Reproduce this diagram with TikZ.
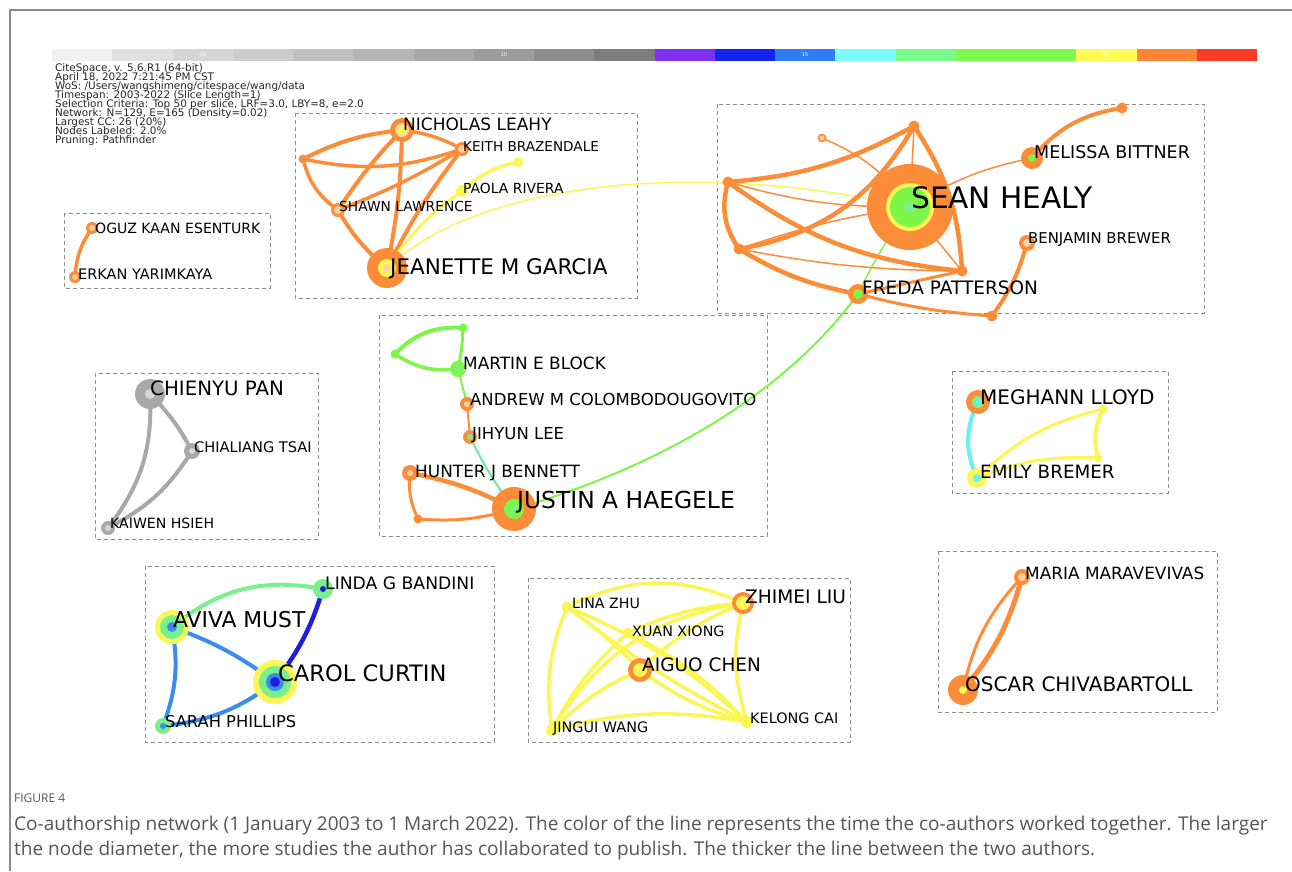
\documentclass[tikz,border=0pt]{standalone}
\usepackage{fontspec}
\setmainfont{DejaVu Sans}
\newfontfamily\capfont{Open Sans}
\definecolor{csOrange}{RGB}{252,140,55}
\definecolor{csPeach}{RGB}{252,208,170}
\definecolor{csYellow}{RGB}{250,246,85}
\definecolor{csGreen}{RGB}{124,246,72}
\definecolor{csMint}{RGB}{122,240,140}
\definecolor{csCyan}{RGB}{100,242,242}
\definecolor{csTeal}{RGB}{110,230,170}
\definecolor{csBlue}{RGB}{60,140,240}
\definecolor{csDeepBlue}{RGB}{30,30,225}
\definecolor{csGray}{RGB}{168,168,168}
\definecolor{csLightGray}{RGB}{215,215,215}
\definecolor{boxGray}{RGB}{140,140,140}
\definecolor{capGray}{RGB}{85,85,85}
\definecolor{barPurple}{RGB}{128,48,240}
\definecolor{barBlue}{RGB}{20,35,240}
\definecolor{barSky}{RGB}{46,124,246}
\definecolor{barCyan}{RGB}{123,253,253}
\definecolor{barMint}{RGB}{122,250,138}
\definecolor{barGreen}{RGB}{125,250,75}
\definecolor{barYellow}{RGB}{252,252,85}
\definecolor{barOrange}{RGB}{253,133,52}
\definecolor{barRed}{RGB}{252,60,38}
\newcommand\rings[2]{\foreach \r/\c in {#2}{\fill[fill=\c] (#1) circle (\r pt);}}
\tikzset{
  box/.style={draw=boxGray, line width=1pt, dash pattern=on 4pt off 3pt},
  link/.style={line width=#1pt, line cap=round},
  link/.default=4,
  lbl/.style={anchor=base west, inner sep=0pt, text=black,
    font=\fontsize{#1pt}{#1pt}\selectfont, yshift=-0.365*#1pt},
  hdr/.style={anchor=base west, inner sep=0pt, text=black!85,
    font=\fontsize{10.4pt}{10.4pt}\selectfont},
  capline/.style={anchor=base west, inner sep=0pt, text=capGray,
    font=\capfont\fontsize{19pt}{19pt}\selectfont},
}
\begin{document}
\begin{tikzpicture}[x=1pt,y=-1pt]
\useasboundingbox (0,0) rectangle (1292,871);
% frame
\draw[boxGray, line width=1.5pt] (10,871) -- (10,10) -- (1292,10);
% time bar
\foreach \k/\col in {0/black!6,1/black!12,2/black!16,3/black!20,4/black!25,
    5/black!29,6/black!34,7/black!39,8/black!45,9/black!51,
    10/barPurple,11/barBlue,12/barSky,13/barCyan,14/barMint,
    15/barGreen,16/barGreen,17/barYellow,18/barOrange,19/barRed}
  \fill[fill=\col] ({52+60.25*\k},49) rectangle ++(60.25,12);
\foreach \k/\yr in {2/05,7/10,12/15,17/20}
  \node[text=white, font=\fontsize{5pt}{5pt}\selectfont, inner sep=0pt] (yr\yr) at ({52+60.25*(\k+0.5)},55) {\yr};
% header
\foreach \txt [count=\i] in {{CiteSpace, v. 5.6.R1 (64-bit)},
    {April 18, 2022 7:21:45 PM CST},
    {WoS: /Users/wangshimeng/citespace/wang/data},
    {Timespan: 2003-2022 (Slice Length=1)},
    {Selection Criteria: Top 50 per slice, LRF=3.0, LBY=8, e=2.0},
    {Network: N=129, E=165 (Density=0.02)},
    {Largest CC: 26 (20\%)},
    {Nodes Labeled: 2.0\%},
    {Pruning: Pathfinder}}
  \node[hdr] (hdr\i) at (55,{62+9.1*\i}) {\txt};

% cluster boxes
\draw[box] (295,113) rectangle (637,298);
\draw[box] (717,104) rectangle (1204,313);
\draw[box] (64,213) rectangle (270,288);
\draw[box] (379,315) rectangle (767,536);
\draw[box] (95,373) rectangle (318,539);
\draw[box] (952,371) rectangle (1168,493);
\draw[box] (938,551) rectangle (1217,712);
\draw[box] (145,566) rectangle (494,742);
\draw[box] (528,578) rectangle (850,742);

% authors
\coordinate (nl) at (402,130);
\coordinate (kb) at (462,149);
\coordinate (aw) at (303,159);
\coordinate (sl) at (338,210);
\coordinate (pr) at (462,191);
\coordinate (py) at (518,162);
\coordinate (jg) at (387,268);
\coordinate (sh) at (910,207);
\coordinate (t1) at (914,126);
\coordinate (t2) at (822,138);
\coordinate (l1) at (728,182);
\coordinate (l2) at (739,249);
\coordinate (r1) at (962,271);
\coordinate (fp) at (858,294);
\coordinate (b1) at (992,316);
\coordinate (bb) at (1027,243);
\coordinate (mb) at (1032,158);
\coordinate (mbu) at (1122,108);
\coordinate (ok) at (92,228);
\coordinate (ey) at (75,277);
\coordinate (g1) at (463,328);
\coordinate (g2) at (395,354);
\coordinate (meb) at (458,369);
\coordinate (amc) at (467,404);
\coordinate (jl) at (470,437);
\coordinate (hjb) at (410,473);
\coordinate (hs) at (418,519);
\coordinate (jah) at (514,509);
\coordinate (cp) at (150,394);
\coordinate (ct) at (192,451);
\coordinate (kh) at (108,528);
\coordinate (ml) at (978,402);
\coordinate (eb) at (977,478);
\coordinate (y1) at (1103,409);
\coordinate (y2) at (1098,458);
\coordinate (mm) at (1022,577);
\coordinate (oc) at (963,690);
\coordinate (lgb) at (323,589);
\coordinate (am) at (172,627);
\coordinate (cc) at (275,682);
\coordinate (sp) at (163,726);
\coordinate (lz) at (567,607);
\coordinate (zl) at (743,603);
\coordinate (xx) at (628,633);
\coordinate (ac) at (640,670);
\coordinate (jw) at (552,730);
\coordinate (kc) at (747,722);

% links
\draw[link=1.5, csYellow] (jg) .. controls (480,180) and (700,160) .. (sh);
\draw[link=2, csGreen] (jah) .. controls (650,470) and (780,400) .. (fp);
\draw[link=1.5, csGreen] (fp) to[bend left=5] (sh);

\draw[link=4, csOrange] (nl) to[bend right=10] (aw);
\draw[link=3.5, csOrange] (aw) to[bend right=15] (kb);
\draw[link=3.5, csOrange] (nl) to[bend left=10] (kb);
\draw[link=4, csOrange] (nl) to[bend right=5] (sl);
\draw[link=4, csOrange] (nl) to[bend left=5] (jg);
\draw[link=3.5, csOrange] (kb) to[bend left=5] (sl);
\draw[link=4, csOrange] (kb) to[bend right=5] (jg);
\draw[link=3.5, csOrange] (aw) to[bend right=20] (sl);
\draw[link=4, csOrange] (sl) to[bend right=10] (jg);
\draw[link=3, csYellow] (jg) to[bend left=10] (pr);
\draw[link=3.5, csYellow] (pr) to[bend left=15] (py);

\draw[link=4.5, csOrange] (l1) to[bend right=12] (t1);
\draw[link=4.5, csOrange] (l2) to[bend right=25] (t1);
\draw[link=4.5, csOrange] (l1) to[bend right=15] (r1);
\draw[link=4.5, csOrange] (l1) to[bend right=25] (l2);
\draw[link=4.5, csOrange] (l2) to[bend right=10] (fp);
\draw[link=1.5, csOrange] (l2) to[bend right=5] (r1);
\draw[link=4.5, csOrange] (t1) to[bend left=15] (r1);
\draw[link=1.5, csOrange] (t1) -- (sh);
\draw[link=1.5, csOrange] (t2) to[bend left=15] (sh);
\draw[link=1.5, csOrange] (l1) to[bend right=8] (sh);
\draw[link=1.5, csOrange] (l2) to[bend left=5] (sh);
\draw[link=1.5, csOrange] (r1) -- (sh);
\draw[link=3, csOrange] (fp) -- (r1);
\draw[link=3, csOrange] (fp) to[bend right=5] (b1);
\draw[link=4, csOrange] (b1) to[bend right=10] (bb);
\draw[link=1.5, csOrange] (sh) to[bend left=10] (mb);
\draw[link=4, csOrange] (mb) to[bend left=20] (mbu);

\draw[link=3.5, csOrange] (ok) to[bend right=15] (ey);

\draw[link=4, csGreen] (g2) to[bend left=25] (g1);
\draw[link=3.5, csGreen] (g2) to[bend right=20] (meb);
\draw[link=3, csGreen] (g1) to[bend left=5] (meb);
\draw[link=2, csGreen] (meb) -- (amc);
\draw[link=2, csOrange] (amc) -- (jl);
\draw[link=2, csTeal] (jl) to[bend right=5] (jah);
\draw[link=4.5, csOrange] (hjb) to[bend left=8] (jah);
\draw[link=3, csOrange] (hjb) to[bend right=15] (hs);
\draw[link=3, csOrange] (hs) to[bend right=10] (jah);

\draw[link=4, csGray] (cp) to[bend left=20] (kh);
\draw[link=4, csGray] (cp) to[bend left=8] (ct);
\draw[link=4, csGray] (ct) to[bend left=15] (kh);

\draw[link=4, csCyan] (ml) to[bend right=25] (eb);
\draw[link=3, csYellow] (eb) to[bend left=15] (y1);
\draw[link=3, csYellow] (eb) to[bend left=12] (y2);
\draw[link=4, csYellow] (y1) to[bend right=20] (y2);

\draw[link=3, csOrange] (mm) to[bend right=15] (oc);
\draw[link=5, csOrange] (mm) to[bend left=12] (oc);

\draw[link=4, csMint] (am) to[bend left=25] (lgb);
\draw[link=4.5, csDeepBlue] (lgb) to[bend left=10] (cc);
\draw[link=4, csBlue] (am) to[bend left=8] (cc);
\draw[link=4, csBlue] (am) to[bend left=15] (sp);
\draw[link=4, csBlue] (sp) to[bend right=15] (cc);

\draw[link=3.5, csYellow] (lz) to[bend left=25] (zl);
\draw[link=3.5, csYellow] (lz) to[bend right=15] (jw);
\draw[link=3.5, csYellow] (lz) to[bend left=10] (kc);
\draw[link=3.5, csYellow] (lz) to[bend right=5] (kc);
\draw[link=3.5, csYellow] (lz) to[bend left=5] (ac);
\draw[link=3.5, csYellow] (xx) to[bend left=10] (zl);
\draw[link=3.5, csYellow] (xx) to[bend right=10] (jw);
\draw[link=3.5, csYellow] (xx) to[bend left=10] (kc);
\draw[link=3.5, csYellow] (ac) to[bend left=10] (zl);
\draw[link=3.5, csYellow] (ac) to[bend right=10] (jw);
\draw[link=3.5, csYellow] (ac) to[bend right=10] (kc);
\draw[link=3.5, csYellow] (zl) to[bend right=25] (jw);
\draw[link=3.5, csYellow] (zl) to[bend right=15] (kc);
\draw[link=3.5, csYellow] (jw) to[bend left=12] (kc);

% node discs
\rings{nl}{12/csOrange,7/csPeach,5/csYellow}
\rings{kb}{7/csOrange,4/csPeach}
\rings{aw}{4.5/csOrange}
\rings{sl}{7/csOrange,4/csPeach}
\rings{pr}{6/csYellow}
\rings{py}{5/csYellow}
\rings{jg}{20/csOrange,9/csYellow,4/csPeach}
\rings{sh}{43/csOrange,24/csYellow,20/csGreen,6/csMint}
\rings{t1}{5.5/csOrange}
\rings{t2}{4.5/csOrange,2.5/csPeach}
\rings{l1}{5.5/csOrange}
\rings{l2}{5.5/csOrange}
\rings{r1}{5.5/csOrange}
\rings{b1}{5.5/csOrange}
\rings{mbu}{5.5/csOrange}
\rings{fp}{10/csOrange,5/csGreen}
\rings{bb}{8/csOrange,4/csPeach}
\rings{mb}{11/csOrange,4/csGreen}
\rings{ok}{6/csOrange,3/csPeach}
\rings{ey}{6/csOrange,3/csPeach}
\rings{g1}{4.5/csGreen}
\rings{g2}{4.5/csGreen}
\rings{meb}{8/csGreen,3/csMint}
\rings{amc}{7/csOrange,3/csPeach}
\rings{jl}{7/csOrange,3/csMint}
\rings{hjb}{8/csOrange,3/csPeach}
\rings{hs}{4.5/csOrange}
\rings{jah}{22/csOrange,10/csGreen,4/csMint}
\rings{cp}{15/csGray,5/csLightGray}
\rings{ct}{8/csGray,3/csLightGray}
\rings{kh}{7/csGray,3/csLightGray}
\rings{ml}{12/csOrange,6/csMint,3/csCyan}
\rings{eb}{10/csYellow,4/csCyan}
\rings{y1}{4.5/csYellow}
\rings{y2}{4.5/csYellow}
\rings{mm}{8/csOrange,4/csPeach}
\rings{oc}{15/csOrange,4/csYellow}
\rings{lgb}{10/csMint,3/csDeepBlue}
\rings{am}{17/csYellow,12/csMint,5/csBlue}
\rings{cc}{22/csYellow,16/csMint,9/csBlue,5/csDeepBlue}
\rings{sp}{8/csMint,3/csBlue}
\rings{lz}{5.5/csYellow}
\rings{zl}{11/csOrange,7/csYellow}
\rings{xx}{5.5/csYellow}
\rings{ac}{12/csOrange,7/csYellow}
\rings{jw}{6/csYellow}
\rings{kc}{6/csYellow}

% labels
\node[lbl=17] (nlT) at (403,124) {NICHOLAS LEAHY};
\node[lbl=13.6] (kbT) at (463,147) {KEITH BRAZENDALE};
\node[lbl=13.8] (slT) at (339,206) {SHAWN LAWRENCE};
\node[lbl=13.9] (prT) at (463,188) {PAOLA RIVERA};
\node[lbl=21.5] (jgT) at (390,267) {JEANETTE M GARCIA};
\node[lbl=29.6] (shT) at (911,198) {SEAN HEALY};
\node[lbl=17.5] (mbT) at (1034,152) {MELISSA BITTNER};
\node[lbl=14.9] (bbT) at (1028,238) {BENJAMIN BREWER};
\node[lbl=18.5] (fpT) at (862,288) {FREDA PATTERSON};
\node[lbl=14.1] (okT) at (95,228) {OGUZ KAAN ESENTURK};
\node[lbl=14.5] (eyT) at (78,274) {ERKAN YARIMKAYA};
\node[lbl=16.9] (mebT) at (463,363) {MARTIN E BLOCK};
\node[lbl=16.5] (amcT) at (470,399) {ANDREW M COLOMBODOUGOVITO};
\node[lbl=16.5] (jlT) at (472,433) {JIHYUN LEE};
\node[lbl=16.9] (hjbT) at (415,471) {HUNTER J BENNETT};
\node[lbl=23.4] (jahT) at (517,500) {JUSTIN A HAEGELE};
\node[lbl=19.8] (cpT) at (150,388) {CHIENYU PAN};
\node[lbl=14.6] (ctT) at (194,447) {CHIALIANG TSAI};
\node[lbl=14.1] (khT) at (110,523) {KAIWEN HSIEH};
\node[lbl=20] (mlT) at (980,397) {MEGHANN LLOYD};
\node[lbl=18.3] (ebT) at (980,472) {EMILY BREMER};
\node[lbl=16.9] (mmT) at (1025,573) {MARIA MARAVEVIVAS};
\node[lbl=20] (ocT) at (965,684) {OSCAR CHIVABARTOLL};
\node[lbl=17.2] (lgbT) at (325,583) {LINDA G BANDINI};
\node[lbl=21.8] (amT) at (173,620) {AVIVA MUST};
\node[lbl=22.6] (ccT) at (278,673) {CAROL CURTIN};
\node[lbl=16.3] (spT) at (165,722) {SARAH PHILLIPS};
\node[lbl=14.2] (lzT) at (572,603) {LINA ZHU};
\node[lbl=18.6] (zlT) at (745,597) {ZHIMEI LIU};
\node[lbl=14.3] (xxT) at (632,631) {XUAN XIONG};
\node[lbl=18.5] (acT) at (642,665) {AIGUO CHEN};
\node[lbl=14.4] (jwT) at (553,727) {JINGUI WANG};
\node[lbl=14.4] (kcT) at (750,718) {KELONG CAI};

% caption
\node[capline, font=\capfont\fontsize{12pt}{12pt}\selectfont] (fig) at (14,802) {FIGURE 4};
\node[capline] (cap1) at (14,830) {Co-authorship network (1 January 2003 to 1 March 2022). The color of the line represents the time the co-authors worked together. The larger};
\node[capline] (cap2) at (14,855) {the node diameter, the more studies the author has collaborated to publish. The thicker the line between the two authors.};
\end{tikzpicture}
\end{document}
